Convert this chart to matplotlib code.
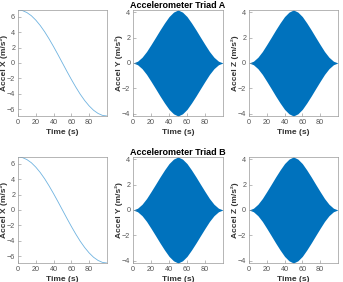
import numpy as np
import matplotlib
matplotlib.use('Agg')
import matplotlib.pyplot as plt

plt.rcParams['font.family'] = ['Liberation Sans', 'DejaVu Sans']

# values
t = [0, 5, 10, 15, 20, 25, 30, 35, 40, 45, 50, 55, 60, 65, 70, 75, 80, 85, 90, 95, 100]
accel_x = [6.9, 6.82, 6.56, 6.15, 5.58, 4.88, 4.06, 3.13, 2.13, 1.08, 0.0,
           -1.08, -2.13, -3.13, -4.06, -4.88, -5.58, -6.15, -6.56, -6.82, -6.9]
# envelope of the (dense) oscillating Y / Z signals
env_yz = [0.0, 0.14, 0.45, 0.9, 1.45, 2.02, 2.6, 3.15, 3.65, 4.0, 4.17,
          4.0, 3.65, 3.15, 2.6, 2.02, 1.45, 0.9, 0.45, 0.14, 0.0]
titles = ['Accelerometer Triad A', 'Accelerometer Triad B']
ylabels = ['Accel X (m/s²)', 'Accel Y (m/s²)', 'Accel Z (m/s²)']
xticks = [0, 20, 40, 60, 80]

blue = '#0072BD'
grey = '#555555'

fig = plt.figure(figsize=(3.43, 2.82), dpi=100)
lefts = [0.0525, 0.388, 0.726]
widths = [0.259, 0.262, 0.259]
bottoms = [0.5887, 0.0674]
h = 0.376

env = np.array(env_yz)
for r in range(2):
    for c in range(3):
        ax = fig.add_axes([lefts[c], bottoms[r], widths[c], h])
        if c == 0:
            ax.plot(t, accel_x, color='#6fb3e0', lw=0.6)
            ax.set_ylim(-6.9, 6.9)
            ax.set_yticks([-6, -4, -2, 0, 2, 4, 6])
        else:
            ax.fill_between(t, -env, env, color=blue, lw=0)
            ax.set_ylim(-4.17, 4.17)
            ax.set_yticks([-4, -2, 0, 2, 4])
        if c == 1:
            ax.set_title(titles[r], fontsize=6.5, fontweight='bold', pad=1.5)
        ax.set_xlim(0, 100)
        ax.set_xticks(xticks)
        ax.set_xlabel('Time (s)', fontsize=6, fontweight='bold', color='#333333')
        ax.set_ylabel(ylabels[c], fontsize=6, fontweight='bold', color='#333333')
        ax.xaxis.set_label_coords(0.5, -0.16)
        ax.yaxis.set_label_coords(-0.155, 0.5)
        ax.xaxis.label.set_va('center')
        ax.yaxis.label.set_va('center')
        ax.tick_params(direction='in', length=2, width=0.4, labelsize=5.2,
                       colors='#888888', labelcolor=grey, pad=2)
        for s in ax.spines.values():
            s.set_color('#999999')
            s.set_linewidth(0.5)

fig.savefig('out.png', dpi=100)
